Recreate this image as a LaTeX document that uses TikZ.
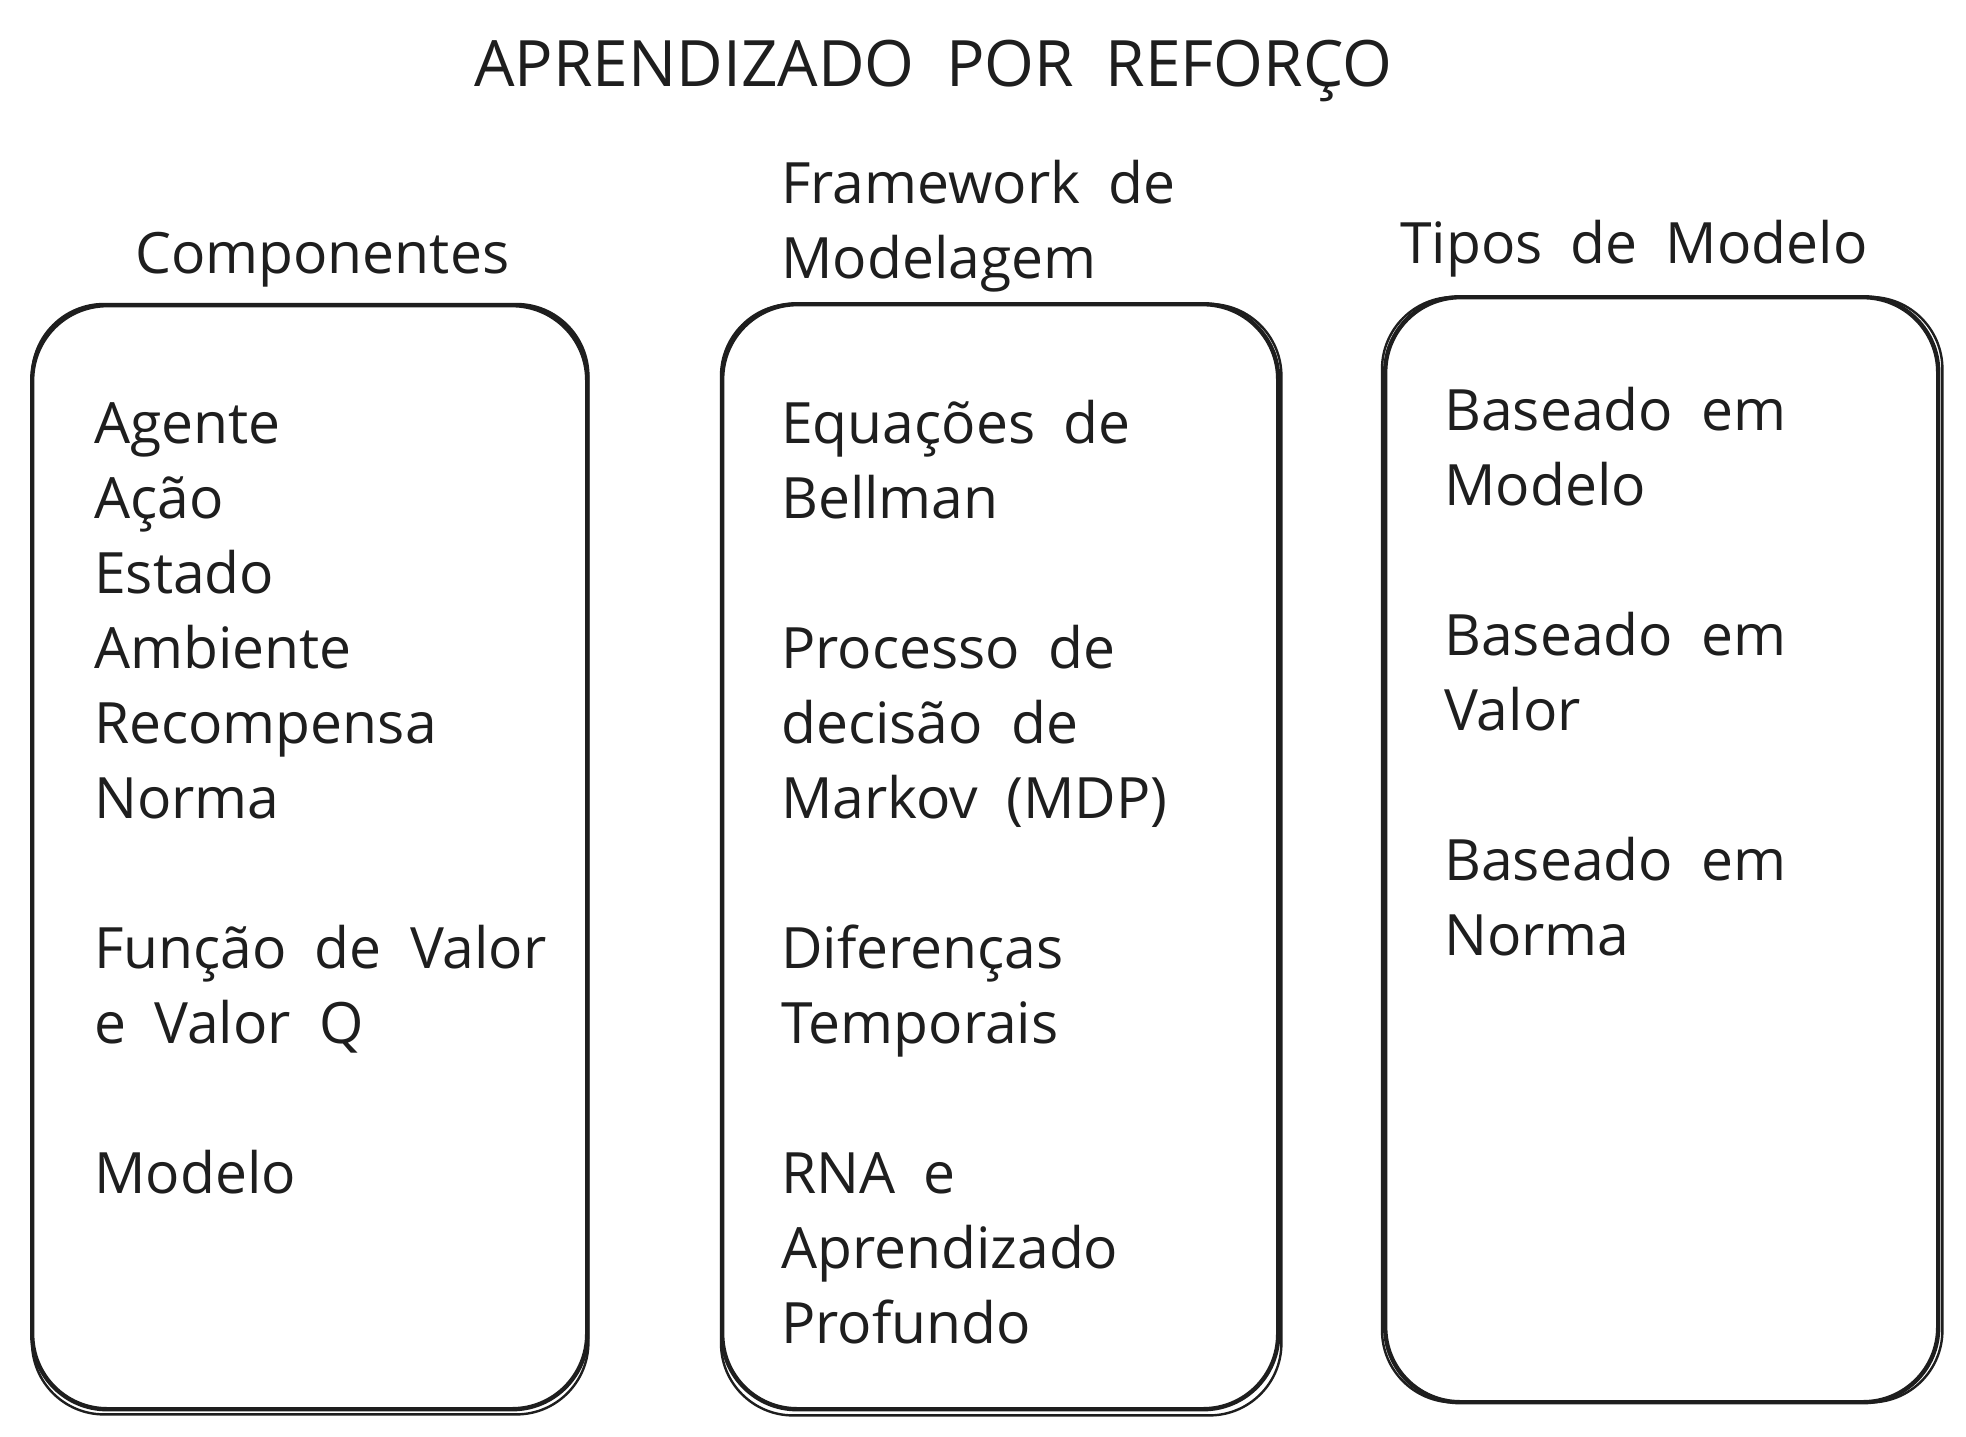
\documentclass[tikz,border=0pt]{standalone}
\usepackage{fontspec}
\setmainfont{Open Sans}[WordSpace=1.9]
\definecolor{ink}{HTML}{1E1E1E}
\begin{document}
\begin{tikzpicture}[x=1pt,y=-1pt,
  sbox/.style={draw=ink, line width=4.4pt, rounded corners=75pt, inner sep=0pt, anchor=north west},
  sbox2/.style={draw=ink, line width=2.4pt, rounded corners=72pt},
  txt/.style={anchor=base west, inner sep=0pt, text=ink, font=\fontsize{57}{75}\selectfont},
  ttl/.style={anchor=base west, inner sep=0pt, text=ink, font=\fontsize{64}{80}\selectfont}]
\useasboundingbox[fill=white] (0,0) rectangle (1966,1437);

% boxes
\node[sbox, minimum width=555pt, minimum height=1104pt] (b1) at (30,303) {};
\node[sbox, minimum width=556pt, minimum height=1105pt] (b2) at (720,302) {};
\node[sbox, minimum width=553pt, minimum height=1105pt] (b3) at (1383,295) {};
\draw[sbox2] ([shift={(2pt,-1pt)}]b1.north west) rectangle ([shift={(-1pt,-3pt)}]b1.south east);
\draw[sbox2] ([shift={(1pt,-2pt)}]b2.north west) rectangle ([shift={(1pt,-4pt)}]b2.south east);
\draw[sbox2] ([shift={(-1pt,-2pt)}]b3.north west) rectangle ([shift={(2pt,2pt)}]b3.south east);

% titles
\node[ttl] (title) at (474,86) {APRENDIZADO POR REFORÇO};
\node[txt] (h1) at (135,273) {Componentes};
\node[txt] (h2a) at (781,203) {Framework de};
\node[txt] (h2b) at (781,278) {Modelagem};
\node[txt] (h3) at (1400,263) {Tipos de Modelo};

% box 1
\node[txt] (c1) at (94,443) {Agente};
\node[txt] (c2) at (94,518) {Ação};
\node[txt] (c3) at (94,593) {Estado};
\node[txt] (c4) at (94,668) {Ambiente};
\node[txt] (c5) at (94,743) {Recompensa};
\node[txt] (c6) at (94,818) {Norma};
\node[txt] (c7) at (94,968) {Função de Valor};
\node[txt] (c8) at (94,1043) {e Valor Q};
\node[txt] (c9) at (94,1193) {Modelo};

% box 2
\node[txt] (f1) at (781,443) {Equações de};
\node[txt] (f2) at (781,518) {Bellman};
\node[txt] (f3) at (781,668) {Processo de};
\node[txt] (f4) at (781,743) {decisão de};
\node[txt] (f5) at (781,818) {Markov (MDP)};
\node[txt] (f6) at (781,968) {Diferenças};
\node[txt] (f7) at (781,1043) {Temporais};
\node[txt] (f8) at (781,1193) {RNA e};
\node[txt] (f9) at (781,1268) {Aprendizado};
\node[txt] (f10) at (781,1343) {Profundo};

% box 3
\node[txt] (t1) at (1444,430) {Baseado em};
\node[txt] (t2) at (1444,505) {Modelo};
\node[txt] (t3) at (1444,655) {Baseado em};
\node[txt] (t4) at (1444,730) {Valor};
\node[txt] (t5) at (1444,880) {Baseado em};
\node[txt] (t6) at (1444,955) {Norma};
\end{tikzpicture}
\end{document}
